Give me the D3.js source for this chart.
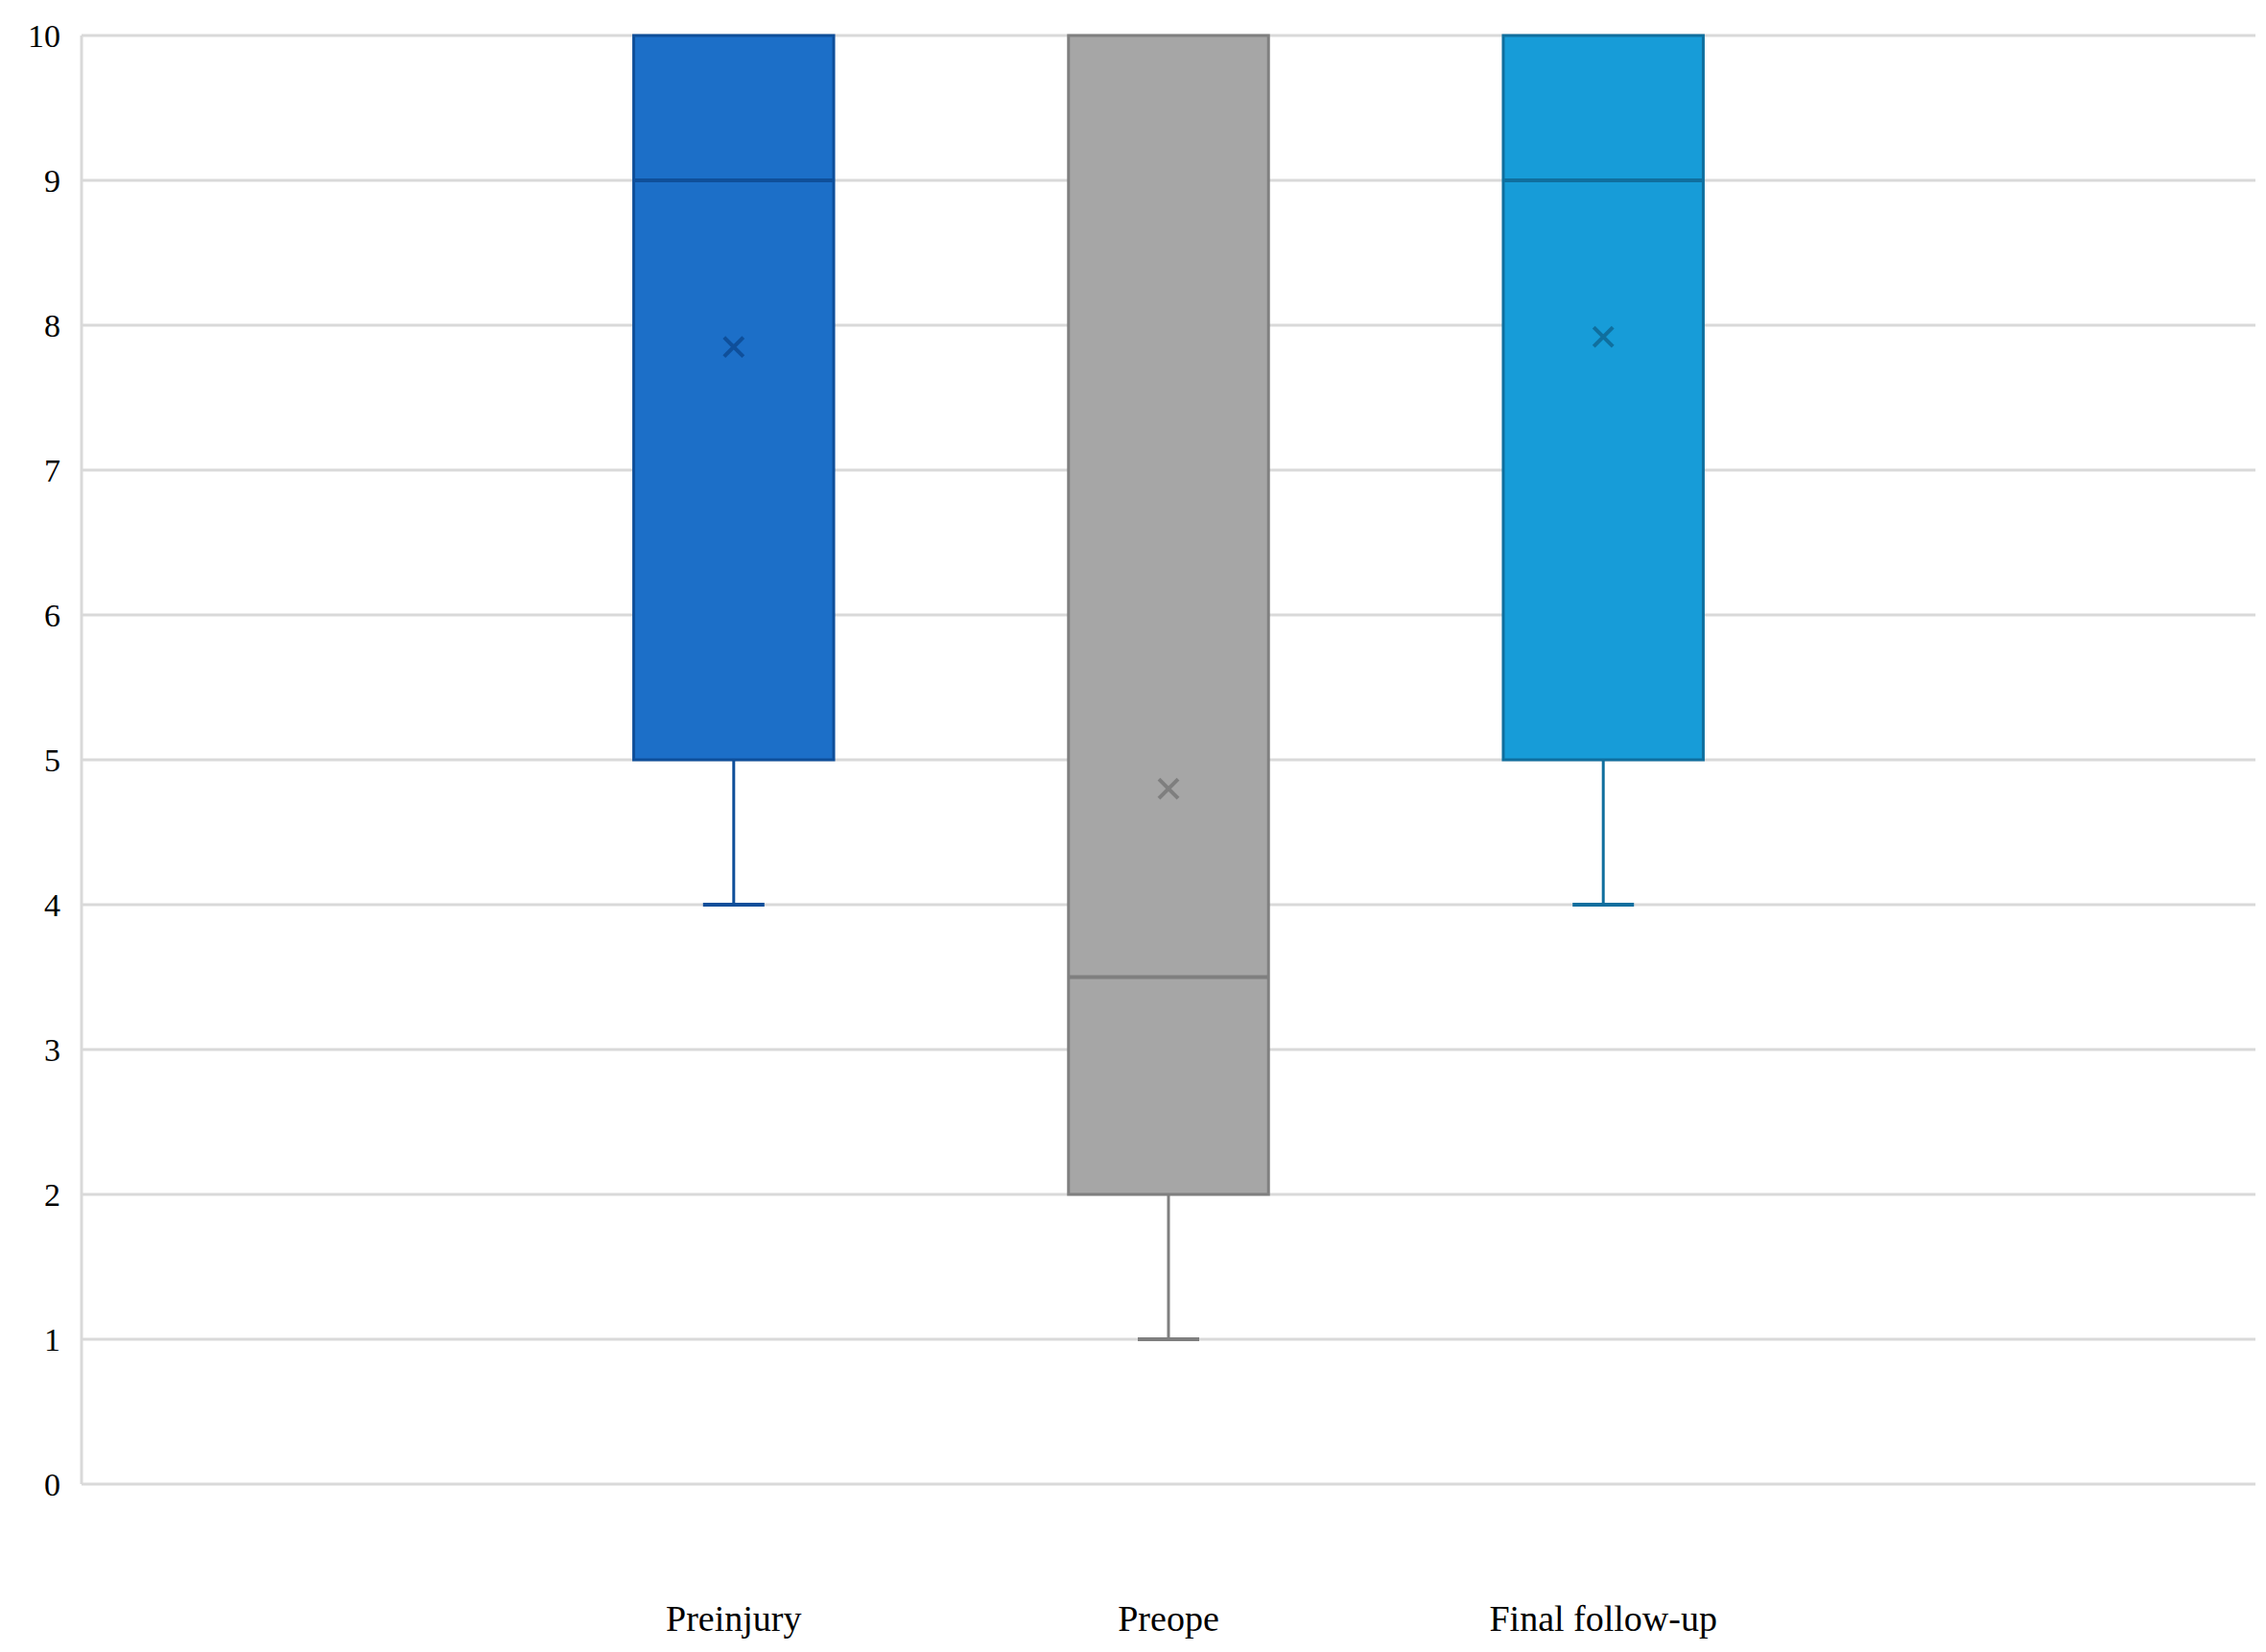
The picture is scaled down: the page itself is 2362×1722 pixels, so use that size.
<!DOCTYPE html>
<html><head><meta charset="utf-8">
<script src="https://cdn.jsdelivr.net/npm/d3@7"></script>
<style>body{margin:0;background:#fff}</style>
</head><body><div id="chart"></div>
<script>
var width = 2362, height = 1722;

// categories and box statistics
var categories = ["", "Preinjury", "Preope", "Final follow-up", " "];
var groups = ["Preinjury", "Preope", "Final follow-up"];
var minVals = [4, 1, 4];
var q1Vals = [5, 2, 5];
var medians = [9, 3.5, 9];
var q3Vals = [10, 10, 10];
var maxVals = [10, 10, 10];
var means = [7.85, 4.8, 7.92];
var fills = ["#1C6FC8", "#A6A6A6", "#179CD8"];
var strokes = ["#0F4F9A", "#7F7F7F", "#106F9E"];
var yTicks = [0, 1, 2, 3, 4, 5, 6, 7, 8, 9, 10];

var plotLeft = 85, plotRight = 2351, plotTop = 37, plotBottom = 1547;

var x = d3.scaleBand().domain(categories).range([plotLeft, plotRight]);
var y = d3.scaleLinear().domain([0, 10]).range([plotBottom, plotTop]);

var svg = d3.select('#chart').append('svg')
    .attr('width', width)
    .attr('height', height);

// gridlines
svg.selectAll('line.grid').data(yTicks).enter().append('line')
    .attr('x1', plotLeft).attr('x2', plotRight)
    .attr('y1', function (d) { return y(d); })
    .attr('y2', function (d) { return y(d); })
    .style('stroke', '#d9d9d9').style('stroke-width', 3);
svg.append('line')
    .attr('x1', plotLeft).attr('x2', plotLeft).attr('y1', plotTop).attr('y2', plotBottom)
    .style('stroke', '#d9d9d9').style('stroke-width', 3);

// y labels
svg.selectAll('text.ytick').data(yTicks).enter().append('text')
    .attr('x', plotLeft - 22)
    .attr('y', function (d) { return y(d); })
    .attr('dy', '0.35em')
    .attr('text-anchor', 'end')
    .style('font-family', 'Liberation Serif, DejaVu Serif, serif')
    .style('font-size', '34px')
    .text(function (d) { return d; });

var boxW = x.bandwidth() * 0.46, capW = 64;
var g = svg.selectAll('g.box').data(groups).enter().append('g');
function cx(d) { return x(d) + x.bandwidth() / 2; }

g.append('line')
    .attr('x1', cx).attr('x2', cx)
    .attr('y1', function (d, i) { return y(q1Vals[i]); })
    .attr('y2', function (d, i) { return y(minVals[i]); })
    .style('stroke', function (d, i) { return strokes[i]; })
    .style('stroke-width', 3);
g.append('line')
    .attr('x1', function (d) { return cx(d) - capW / 2; })
    .attr('x2', function (d) { return cx(d) + capW / 2; })
    .attr('y1', function (d, i) { return y(minVals[i]); })
    .attr('y2', function (d, i) { return y(minVals[i]); })
    .style('stroke', function (d, i) { return strokes[i]; })
    .style('stroke-width', 4);
g.append('rect')
    .attr('x', function (d) { return cx(d) - boxW / 2; })
    .attr('width', boxW)
    .attr('y', function (d, i) { return y(q3Vals[i]); })
    .attr('height', function (d, i) { return y(q1Vals[i]) - y(q3Vals[i]); })
    .style('fill', function (d, i) { return fills[i]; })
    .style('stroke', function (d, i) { return strokes[i]; })
    .style('stroke-width', 3);
g.append('line')
    .attr('x1', function (d) { return cx(d) - boxW / 2; })
    .attr('x2', function (d) { return cx(d) + boxW / 2; })
    .attr('y1', function (d, i) { return y(medians[i]); })
    .attr('y2', function (d, i) { return y(medians[i]); })
    .style('stroke', function (d, i) { return strokes[i]; })
    .style('stroke-width', 4);
// mean marker
g.append('path')
    .attr('transform', function (d, i) {
        return 'translate(' + cx(d) + ',' + y(means[i]) + ')';
    })
    .attr('d', 'M-10,-10L10,10M-10,10L10,-10')
    .style('stroke', function (d, i) { return strokes[i]; })
    .style('stroke-width', 4);

// x labels
svg.selectAll('text.xlab').data(groups).enter().append('text')
    .attr('x', cx)
    .attr('y', 1700)
    .attr('text-anchor', 'middle')
    .style('font-family', 'Liberation Serif, DejaVu Serif, serif')
    .style('font-size', '38px')
    .text(function (d) { return d; });
</script>
</body></html>
